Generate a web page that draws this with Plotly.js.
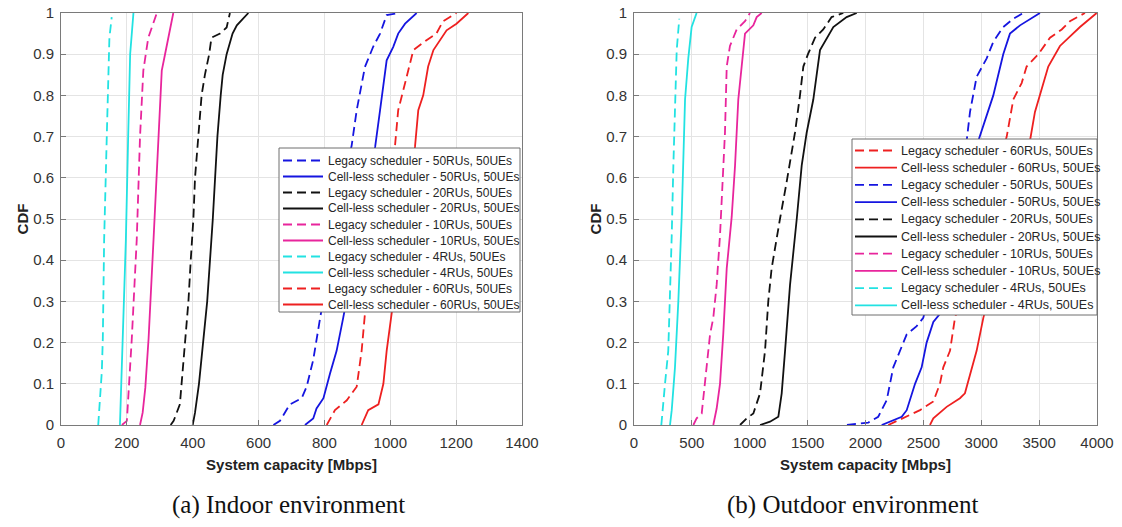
<!DOCTYPE html>
<html><head><meta charset="utf-8">
<script src="https://cdn.plot.ly/plotly-3.0.1.min.js"></script>
<style>html,body{margin:0;padding:0;background:#fff;} #chart{width:1122px;height:527px;}</style>
</head><body><div id="chart"></div>
<script>
// ---------- DATA: Indoor environment (x = Mbps, y = CDF) ----------
const inL4x  = [113, 124, 127, 131, 139, 147, 154];
const inL4y  = [0, 0.13, 0.21, 0.45, 0.70, 0.94, 0.99];
const inC4x  = [179, 183, 189, 197, 204, 210, 220];
const inC4y  = [0, 0.1, 0.21, 0.45, 0.70, 0.9, 1.0];
const inL10x = [185, 200, 203, 215, 230, 240, 250, 265, 291];
const inL10y = [0, 0.01, 0.05, 0.21, 0.45, 0.70, 0.86, 0.94, 1.0];
const inC10x = [240, 248, 256, 266, 281, 296, 306, 316, 326, 341];
const inC10y = [0, 0.03, 0.09, 0.21, 0.45, 0.70, 0.86, 0.90, 0.94, 1.0];
const inL20x = [333, 342, 361, 366, 376, 387, 394, 402, 407, 417, 427, 437, 450, 457, 483, 503, 511, 513];
const inL20y = [0, 0.01, 0.05, 0.1, 0.2, 0.3, 0.4, 0.5, 0.6, 0.7, 0.8, 0.85, 0.9, 0.94, 0.95, 0.965, 0.99, 1.0];
const inC20x = [400, 407, 419, 432, 444, 461, 475, 485, 491, 503, 521, 534, 559, 569];
const inC20y = [0, 0.03, 0.1, 0.2, 0.3, 0.5, 0.7, 0.8, 0.85, 0.9, 0.95, 0.97, 0.99, 1.0];
const inL50x = [645, 665, 695, 731, 746, 766, 787, 840, 883, 898, 923, 948, 969, 989, 1028];
const inL50y = [0, 0.01, 0.05, 0.065, 0.093, 0.158, 0.26, 0.5, 0.68, 0.764, 0.869, 0.918, 0.95, 0.995, 1.0];
const inC50x = [741, 766, 776, 797, 817, 837, 857, 954, 969, 989, 1009, 1024, 1045, 1080];
const inC50y = [0, 0.016, 0.04, 0.065, 0.125, 0.18, 0.26, 0.675, 0.764, 0.885, 0.918, 0.95, 0.974, 1.0];
const inL60x = [807, 832, 868, 898, 913, 923, 1014, 1024, 1045, 1070, 1110, 1140, 1160, 1201];
const inL60y = [0, 0.036, 0.06, 0.093, 0.18, 0.27, 0.675, 0.764, 0.83, 0.91, 0.934, 0.95, 0.98, 1.0];
const inC60x = [913, 933, 964, 979, 989, 1004, 1075, 1085, 1100, 1115, 1131, 1171, 1201, 1237];
const inC60y = [0, 0.036, 0.05, 0.1, 0.18, 0.27, 0.675, 0.764, 0.8, 0.87, 0.91, 0.958, 0.974, 1.0];

// ---------- DATA: Outdoor environment ----------
const outL4x  = [236, 253, 268, 296, 311, 326, 340, 354, 369, 391];
const outL4y  = [0, 0.044, 0.1, 0.18, 0.3, 0.46, 0.63, 0.79, 0.91, 0.986];
const outC4x  = [311, 326, 354, 383, 412, 441, 469, 498, 541];
const outC4y  = [0, 0.036, 0.14, 0.3, 0.505, 0.79, 0.89, 0.966, 1.0];
const outL10x = [513, 541, 585, 613, 657, 685, 714, 743, 771, 786, 801, 829, 887, 959, 1002];
const outL10y = [0, 0.016, 0.028, 0.1, 0.22, 0.26, 0.34, 0.46, 0.63, 0.71, 0.87, 0.92, 0.96, 0.98, 1.0];
const outC10x = [685, 700, 714, 743, 771, 801, 844, 873, 901, 930, 959, 1031, 1060, 1103];
const outC10y = [0, 0.024, 0.04, 0.1, 0.22, 0.38, 0.505, 0.63, 0.79, 0.87, 0.95, 0.97, 0.99, 1.0];
const outL20x = [916, 974, 1031, 1089, 1132, 1160, 1189, 1233, 1261, 1319, 1348, 1391, 1434, 1463, 1503, 1564, 1635, 1707, 1808];
const outL20y = [0, 0.016, 0.028, 0.077, 0.18, 0.3, 0.38, 0.46, 0.5, 0.59, 0.64, 0.71, 0.8, 0.87, 0.90, 0.94, 0.96, 0.99, 1.0];
const outC20x = [1089, 1175, 1247, 1276, 1305, 1348, 1406, 1449, 1492, 1549, 1607, 1665, 1722, 1837, 1924];
const outC20y = [0, 0.008, 0.02, 0.077, 0.18, 0.34, 0.5, 0.63, 0.71, 0.79, 0.91, 0.94, 0.966, 0.99, 1.0];
const outL50x = [1840, 2024, 2110, 2183, 2240, 2298, 2356, 2442, 2499, 2874, 2903, 2960, 3047, 3104, 3190, 3277, 3363];
const outL50y = [0, 0.006, 0.02, 0.06, 0.14, 0.18, 0.22, 0.24, 0.26, 0.69, 0.76, 0.845, 0.89, 0.93, 0.966, 0.986, 1.0];
const outC50x = [2140, 2313, 2356, 2428, 2485, 2528, 2586, 2643, 2975, 3047, 3104, 3190, 3248, 3335, 3507];
const outC50y = [0, 0.02, 0.036, 0.1, 0.14, 0.2, 0.25, 0.27, 0.69, 0.75, 0.8, 0.9, 0.95, 0.97, 1.0];
const outL60x = [2197, 2356, 2471, 2586, 2643, 2672, 2730, 2773, 3220, 3277, 3349, 3392, 3493, 3594, 3695, 3766, 3896];
const outL60y = [0, 0.02, 0.036, 0.057, 0.1, 0.14, 0.18, 0.26, 0.7, 0.79, 0.83, 0.87, 0.9, 0.94, 0.96, 0.98, 1.0];
const outC60x = [2557, 2586, 2701, 2816, 2859, 2903, 2960, 3018, 3421, 3464, 3507, 3579, 3680, 3853, 3997];
const outC60y = [0, 0.016, 0.044, 0.065, 0.077, 0.125, 0.18, 0.26, 0.69, 0.76, 0.8, 0.87, 0.92, 0.966, 1.0];

// ---------- Labels ----------
const indoorNames = [
  'Legacy scheduler - 50RUs, 50UEs', 'Cell-less scheduler - 50RUs, 50UEs',
  'Legacy scheduler - 20RUs, 50UEs', 'Cell-less scheduler - 20RUs, 50UEs',
  'Legacy scheduler - 10RUs, 50UEs', 'Cell-less scheduler - 10RUs, 50UEs',
  'Legacy scheduler - 4RUs, 50UEs',  'Cell-less scheduler - 4RUs, 50UEs',
  'Legacy scheduler - 60RUs, 50UEs', 'Cell-less scheduler - 60RUs, 50UEs'];
const outdoorNames = [
  'Legacy scheduler - 60RUs, 50UEs', 'Cell-less scheduler - 60RUs, 50UEs',
  'Legacy scheduler - 50RUs, 50UEs', 'Cell-less scheduler - 50RUs, 50UEs',
  'Legacy scheduler - 20RUs, 50UEs', 'Cell-less scheduler - 20RUs, 50UEs',
  'Legacy scheduler - 10RUs, 50UEs', 'Cell-less scheduler - 10RUs, 50UEs',
  'Legacy scheduler - 4RUs, 50UEs',  'Cell-less scheduler - 4RUs, 50UEs'];
const xTitle = 'System capacity [Mbps]';
const yTitle = 'CDF';
const captions = ['(a) Indoor environment', '(b) Outdoor environment'];

// ---------- Styles ----------
const COL = {4:'#22e2e2', 10:'#e8259c', 20:'#111111', 50:'#1515e0', 60:'#ee2020'};
const DASH = '9px,5px';
const LW = 1.8;

const indoorSeries = [
  [inL50x,inL50y,50,true],[inC50x,inC50y,50,false],
  [inL20x,inL20y,20,true],[inC20x,inC20y,20,false],
  [inL10x,inL10y,10,true],[inC10x,inC10y,10,false],
  [inL4x,inL4y,4,true],[inC4x,inC4y,4,false],
  [inL60x,inL60y,60,true],[inC60x,inC60y,60,false]];
const outdoorSeries = [
  [outL60x,outL60y,60,true],[outC60x,outC60y,60,false],
  [outL50x,outL50y,50,true],[outC50x,outC50y,50,false],
  [outL20x,outL20y,20,true],[outC20x,outC20y,20,false],
  [outL10x,outL10y,10,true],[outC10x,outC10y,10,false],
  [outL4x,outL4y,4,true],[outC4x,outC4y,4,false]];

const traces = [];
function addSeries(series, names, xa, ya) {
  series.forEach((s, i) => {
    traces.push({
      type: 'scatter', mode: 'lines', x: s[0], y: s[1], name: names[i],
      xaxis: xa, yaxis: ya, showlegend: false, hoverinfo: 'skip',
      line: {color: COL[s[2]], width: LW, dash: s[3] ? DASH : 'solid'}
    });
  });
}
addSeries(indoorSeries, indoorNames, 'x', 'y');
addSeries(outdoorSeries, outdoorNames, 'x2', 'y2');

// ---------- Geometry (pixels -> paper coords of the plot area) ----------
const W = 1122, H = 527;
const ML = 61, MR = 25, MT = 13, MB = 102;
const PW = W - ML - MR, PH = H - MT - MB;
const PX = v => (v - ML) / PW, PY = v => (H - MB - v) / PH;

// ---------- Custom MATLAB-style legends ----------
const shapes = [], annotations = [];
function drawLegend(series, names, box, row0, step, lx0, lx1, tx, fs) {
  shapes.push({type:'rect', xref:'paper', yref:'paper', x0:PX(box[0]), x1:PX(box[1]),
    y0:PY(box[3]), y1:PY(box[2]), fillcolor:'#ffffff', line:{color:'#6e6e6e', width:1}});
  series.forEach((s, i) => {
    const yy = PY(row0 + i * step);
    shapes.push({type:'line', xref:'paper', yref:'paper', x0:PX(lx0), x1:PX(lx1), y0:yy, y1:yy,
      line:{color:COL[s[2]], width:LW, dash: s[3] ? DASH : 'solid'}});
    annotations.push({xref:'paper', yref:'paper', x:PX(tx), y:yy, xanchor:'left', yanchor:'middle',
      text:names[i], showarrow:false, font:{family:'Liberation Sans, Arial, sans-serif', size:fs, color:'#262626'}});
  });
}
drawLegend(indoorSeries, indoorNames, [279, 520, 148, 312], 160.5, 16.0, 283, 323, 326, 12);
drawLegend(outdoorSeries, outdoorNames, [852, 1097, 139, 315], 150.5, 17.2, 855, 897, 899, 12.5);

annotations.push({xref:'paper', yref:'paper', x:PX(288), y:PY(505), xanchor:'center', yanchor:'middle',
  text:captions[0], showarrow:false, font:{family:'Liberation Serif, Times New Roman, serif', size:25, color:'#111'}});
annotations.push({xref:'paper', yref:'paper', x:PX(852), y:PY(505), xanchor:'center', yanchor:'middle',
  text:captions[1], showarrow:false, font:{family:'Liberation Serif, Times New Roman, serif', size:25, color:'#111'}});

const tickFont = {family:'Liberation Sans, Arial, sans-serif', size:15, color:'#333333'};
const titleFont = {family:'Liberation Sans, Arial, sans-serif', size:15, color:'#222222', weight:'bold'};
function xAxis(range, dtick, domain, anchor) {
  return {range, dtick, tick0:0, domain, anchor, showgrid:true, gridcolor:'#e4e4e4', zeroline:false,
    showline:true, mirror:true, linecolor:'#7a7a7a', linewidth:1, ticks:'inside', ticklen:5, tickcolor:'#7a7a7a',
    tickfont:tickFont, ticklabelstandoff:4,
    title:{text:'<b>'+xTitle+'</b>', font:titleFont, standoff:9}, automargin:false};
}
function yAxis(domain, anchor) {
  return {range:[0,1], dtick:0.1, tick0:0, domain, anchor, showgrid:true, gridcolor:'#e4e4e4', zeroline:false,
    showline:true, mirror:true, linecolor:'#7a7a7a', linewidth:1, ticks:'inside', ticklen:5, tickcolor:'#7a7a7a',
    tickfont:tickFont, ticklabelstandoff:3,
    title:{text:'<b>'+yTitle+'</b>', font:titleFont, standoff:0}, automargin:false};
}
const layout = {
  width: W, height: H, paper_bgcolor:'#ffffff', plot_bgcolor:'#ffffff',
  margin:{l:ML, r:MR, t:MT, b:MB, pad:0},
  showlegend:false,
  xaxis: xAxis([0,1400], 200, [0, (522-ML)/PW], 'y'),
  yaxis: yAxis([0,1], 'x'),
  xaxis2: xAxis([0,4000], 500, [(634-ML)/PW, 1], 'y2'),
  yaxis2: yAxis([0,1], 'x2'),
  shapes, annotations
};
Plotly.newPlot('chart', traces, layout, {displayModeBar:false, staticPlot:true});
</script></body></html>
